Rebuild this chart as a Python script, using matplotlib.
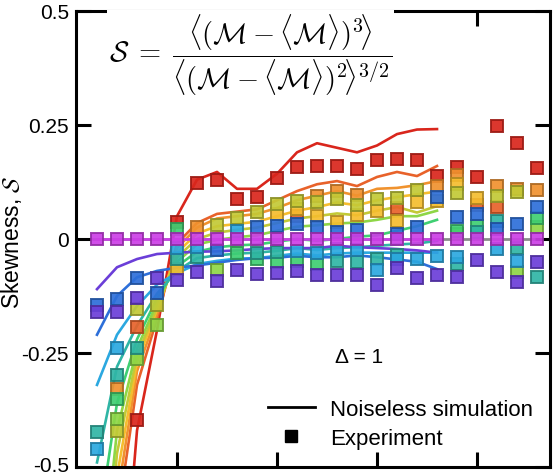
"""Skewness of the magnetisation: noiseless simulation vs experiment (Delta = 1)."""

import matplotlib
matplotlib.use("Agg")
import matplotlib.pyplot as plt
import numpy as np
from matplotlib.colors import to_rgb
from matplotlib.lines import Line2D
from matplotlib.transforms import ScaledTranslation

nan = np.nan

# ── Data ──────────────────────────────────────────────────────────────────────
t_exp = list(range(1, 24))   # experiment steps
t_sim = list(range(1, 19))   # simulation steps

# noiseless simulation, one list per colour (red -> violet, magenta)
sim_red    = [-1.5, -0.95, -0.42, -0.20, 0.05, 0.13, 0.147, 0.11, 0.11, 0.143, 0.19, 0.21, 0.20, 0.19, 0.205, 0.23, 0.24, 0.241]
sim_orred  = [-1.2, -0.62, -0.32, -0.175, -0.01, 0.035, 0.055, 0.06, 0.065, 0.085, 0.105, 0.12, 0.127, 0.116, 0.136, 0.147, 0.138, 0.16]
sim_orange = [-1.1, -0.57, -0.29, -0.165, -0.02, 0.025, 0.045, 0.05, 0.055, 0.068, 0.085, 0.095, 0.105, 0.095, 0.11, 0.112, 0.118, 0.127]
sim_gold   = [-1.0, -0.52, -0.27, -0.155, -0.03, 0.012, 0.028, 0.033, 0.038, 0.05, 0.062, 0.07, 0.08, 0.074, 0.085, 0.092, 0.098, 0.104]
sim_olive  = [-0.95, -0.47, -0.255, -0.15, -0.04, 0.0, 0.014, 0.02, 0.025, 0.035, 0.045, 0.05, 0.056, 0.052, 0.062, 0.07, 0.058, 0.072]
sim_lime   = [-0.85, -0.42, -0.24, -0.14, -0.05, -0.012, -0.002, 0.004, 0.008, 0.018, 0.027, 0.03, 0.034, 0.036, 0.042, 0.05, 0.05, 0.062]
sim_green  = [-0.65, -0.36, -0.22, -0.13, -0.06, -0.028, -0.018, -0.014, -0.012, -0.006, 0.0, -0.004, 0.0, 0.005, 0.008, 0.018, 0.028, 0.042]
sim_teal   = [-0.49, -0.28, -0.19, -0.12, -0.07, -0.042, -0.036, -0.032, -0.03, -0.026, -0.02, -0.024, -0.02, -0.018, -0.015, -0.012, -0.01, -0.004]
sim_cyan   = [-0.32, -0.21, -0.147, -0.10, -0.075, -0.055, -0.048, -0.043, -0.042, -0.037, -0.032, -0.036, -0.032, -0.03, -0.03, -0.03, -0.03, -0.03]
sim_blue   = [-0.21, -0.125, -0.084, -0.07, -0.063, -0.058, -0.052, -0.046, -0.042, -0.041, -0.037, -0.04, -0.04, -0.036, -0.04, -0.045, -0.05, -0.066]
sim_violet = [-0.11, -0.062, -0.044, -0.033, -0.03, -0.028, -0.027, -0.025, -0.022, -0.02, -0.02, -0.02, -0.015, -0.018, -0.02, -0.022, -0.025, -0.03]
sim_magenta = [0.0] * 18

# experiment (nan = not visible in the figure)
exp_red    = [nan, nan, -0.397, nan, 0.037, 0.123, 0.130, 0.087, 0.092, 0.134, 0.158, 0.160, 0.160, 0.153, 0.174, 0.176, 0.174, 0.139, 0.157, 0.136, 0.248, 0.210, 0.155]
exp_orred  = [nan, nan, -0.194, nan, nan, nan, nan, nan, nan, nan, 0.05, nan, nan, nan, nan, 0.068, nan, nan, nan, 0.075, 0.071, nan, nan]
exp_orange = [nan, -0.33, nan, nan, nan, 0.026, nan, nan, nan, nan, nan, 0.094, 0.105, 0.096, nan, nan, nan, 0.116, 0.14, nan, 0.116, 0.11, 0.107]
exp_gold   = [nan, nan, nan, nan, -0.066, nan, nan, nan, nan, 0.055, 0.065, 0.05, 0.037, 0.053, 0.061, 0.04, 0.082, 0.084, 0.12, 0.09, nan, nan, nan]
exp_olive  = [nan, -0.42, -0.154, -0.145, nan, nan, 0.03, 0.046, 0.06, 0.077, 0.083, 0.08, 0.088, 0.075, 0.088, 0.09, 0.108, nan, 0.10, nan, 0.094, 0.103, nan]
exp_lime   = [nan, -0.395, -0.263, -0.189, nan, nan, -0.068, nan, nan, nan, nan, nan, nan, nan, nan, nan, nan, nan, 0.01, nan, nan, -0.073, 0.026]
exp_green  = [nan, -0.35, nan, nan, 0.022, nan, nan, -0.03, -0.045, -0.05, -0.048, -0.055, nan, nan, nan, nan, nan, nan, 0.018, 0.029, nan, nan, 0.046]
exp_teal   = [-0.424, -0.298, -0.24, nan, -0.044, -0.04, nan, nan, -0.03, -0.028, nan, nan, -0.048, -0.05, -0.044, -0.035, nan, nan, -0.055, 0.015, 0.04, -0.02, -0.083]
exp_cyan   = [-0.46, -0.24, nan, nan, -0.02, -0.018, nan, 0.018, nan, nan, -0.026, -0.03, -0.022, -0.025, -0.068, -0.045, -0.044, -0.037, -0.04, nan, -0.022, -0.048, nan]
exp_blue   = [-0.145, -0.132, -0.086, -0.118, nan, nan, -0.025, nan, 0.026, 0.029, 0.033, 0.026, 0.015, 0.02, nan, 0.01, 0.027, 0.092, 0.048, 0.055, 0.022, 0.033, 0.07]
exp_violet = [-0.16, -0.16, -0.13, -0.085, -0.089, -0.072, -0.092, -0.068, -0.076, -0.075, -0.07, -0.08, -0.08, -0.08, -0.10, -0.064, -0.085, -0.08, -0.083, -0.046, -0.073, -0.095, -0.05]
exp_magenta = [0.0] * 23

colors = ["#d9261c", "#e8622a", "#f0922e", "#f5bd2e", "#c3c936", "#8ed646",
          "#3fcf72", "#2fb5a5", "#2ba8e0", "#2d6fd9", "#6b3ed8", "#cc3fe6"]
sims = [sim_red, sim_orred, sim_orange, sim_gold, sim_olive, sim_lime,
        sim_green, sim_teal, sim_cyan, sim_blue, sim_violet, sim_magenta]
exps = [exp_red, exp_orred, exp_orange, exp_gold, exp_olive, exp_lime,
        exp_green, exp_teal, exp_cyan, exp_blue, exp_violet, exp_magenta]

ytick_vals   = [-0.5, -0.25, 0, 0.25, 0.5]
ytick_labels = ["-0.5", "-0.25", "0", "0.25", "0.5"]
xtick_vals   = [5, 10, 15, 20]

# ── Style ─────────────────────────────────────────────────────────────────────
plt.rcParams["font.family"] = ["Liberation Sans", "DejaVu Sans"]
plt.rcParams["mathtext.fontset"] = "cm"

fig = plt.figure(figsize=(5.54, 4.77), dpi=100)
ax = fig.add_axes([0.1372, 0.0189, 0.8556, 0.956])

# ── Plot ──────────────────────────────────────────────────────────────────────
ax.axhline(0, color="0.55", lw=2, zorder=1)

for c, s in zip(colors, sims):
    ax.plot(t_sim, s, color=c, lw=1.9, zorder=2)

for c, e in zip(colors, exps):
    edge = tuple(0.72 * v for v in to_rgb(c))
    ax.plot(t_exp, e, ls="none", marker="s", ms=9, mfc=c, mec=edge,
            mew=1.4, alpha=0.92, zorder=3)

ax.set_xlim(-0.05, 23.65)
ax.set_ylim(-0.5, 0.5)
ax.set_xticks(xtick_vals)
ax.set_xticklabels([])
ax.set_yticks(ytick_vals)
ax.set_yticklabels(ytick_labels)
ax.tick_params(direction="in", length=10.5, width=2.2, top=True, right=True,
               labelsize=15, pad=5)
for sp in ax.spines.values():
    sp.set_linewidth(2.2)
# nudge the bottom tick label up so it stays inside the figure
ax.get_yticklabels()[0].set_transform(
    ax.get_yticklabels()[0].get_transform() + ScaledTranslation(0, 3 / 100, fig.dpi_scale_trans))

ax.set_ylabel(r"Skewness, $\mathcal{S}$", fontsize=16.5)
ax.yaxis.set_label_coords(-0.11, 0.495)

# formula; the invisible \genfrac struts make the angle brackets tall,
# the white box hides the top spine behind it
inner = r"\genfrac{}{}{0}{}{\,}{\,}"
strut = r"\genfrac{}{}{0}{}{" + inner + "}{" + inner + r"}\!\!\!"
num = r"\left\langle (\mathcal{M} - \langle \mathcal{M} \rangle)^3" + strut + r"\right\rangle"
den = r"\left\langle (\mathcal{M} - \langle \mathcal{M} \rangle)^2" + strut + r"\right\rangle^{3/2}"
ax.text(0.368, 0.905, r"$\mathcal{S}\;=\;\dfrac{" + num + "}{" + den + "}$",
        transform=ax.transAxes, ha="center", va="center", fontsize=20.5,
        bbox=dict(facecolor="white", edgecolor="none", pad=1), zorder=6, clip_on=False)

ax.text(0.597, 0.243, "Δ = 1", transform=ax.transAxes, ha="center", va="center",
        fontsize=15)

handles = [Line2D([], [], color="black", lw=2),
           Line2D([], [], color="black", ls="none", marker="s", ms=9)]
ax.legend(handles, ["Noiseless simulation", "Experiment"], loc="lower left",
          bbox_to_anchor=(0.405, 0.04), frameon=False, fontsize=16,
          handlelength=2.1, handletextpad=0.7, labelspacing=0.35,
          borderpad=0, borderaxespad=0)

fig.savefig("out.png", dpi=100)
